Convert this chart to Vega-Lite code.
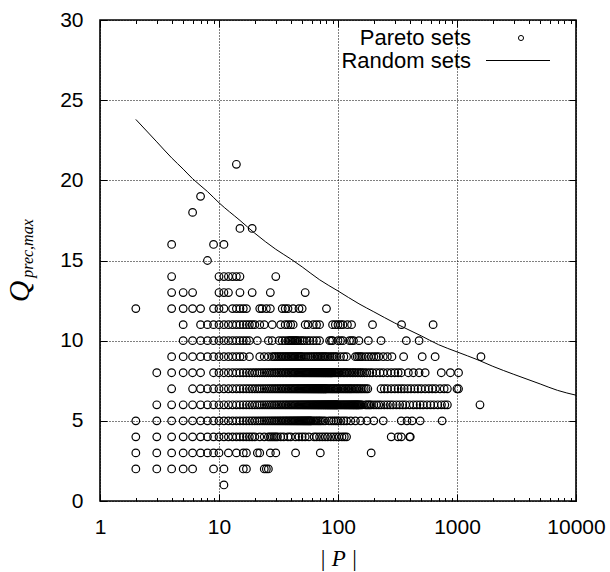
{
"$schema":"https://vega.github.io/schema/vega-lite/v6.json",
"width":476,"height":481,
"autosize":{"type":"none"},
"padding":{"left":100,"top":20,"right":34,"bottom":71},
"background":"white",
"config":{
 "view":{"stroke":"black","strokeWidth":1.6},
 "axis":{"labelFont":"Liberation Sans","labelFontSize":21,"labelColor":"black","tickColor":"black","tickWidth":1,"domain":false,"gridColor":"black","gridDash":[1,2],"gridOpacity":1,"gridWidth":1,"labelOverlap":false,"labelFlush":false,"labelBound":false,"titleColor":"black"},
 "legend":{"labelFont":"Liberation Sans","labelFontSize":22,"labelColor":"black","labelLimit":0,"padding":0,"symbolStrokeWidth":1,"labelAlign":"right"}
},
"datasets":{
"random":[{"x":2,"q":23.8},{"x":3,"q":22.4},{"x":4,"q":21.4},{"x":5,"q":20.7},{"x":6,"q":20.1},{"x":8,"q":19.3},{"x":10,"q":18.6},{"x":15,"q":17.5},{"x":20,"q":16.7},{"x":30,"q":15.7},{"x":40,"q":15.1},{"x":50,"q":14.6},{"x":70,"q":13.8},{"x":100,"q":13.1},{"x":150,"q":12.3},{"x":200,"q":11.8},{"x":300,"q":11.1},{"x":500,"q":10.3},{"x":700,"q":9.75},{"x":1000,"q":9.3},{"x":1500,"q":8.8},{"x":2000,"q":8.4},{"x":3000,"q":7.9},{"x":5000,"q":7.3},{"x":7000,"q":6.9},{"x":10000,"q":6.6}],
"pareto":[
{"x":11,"y":1},
{"x":2,"y":2},{"x":3,"y":2},{"x":4,"y":2},{"x":5,"y":2},{"x":6,"y":2},{"x":9,"y":2},{"x":11,"y":2},{"x":16,"y":2},{"x":17,"y":2},{"x":24,"y":2},{"x":25,"y":2},{"x":26,"y":2},
{"x":2,"y":3},{"x":3,"y":3},{"x":4,"y":3},{"x":5,"y":3},{"x":6,"y":3},{"x":7,"y":3},{"x":8,"y":3},{"x":9,"y":3},{"x":10,"y":3},{"x":12,"y":3},{"x":14,"y":3},{"x":16,"y":3},{"x":17,"y":3},{"x":21,"y":3},{"x":22,"y":3},{"x":27,"y":3},{"x":30,"y":3},{"x":44,"y":3},{"x":71,"y":3},{"x":190,"y":3},
{"x":2,"y":4},{"x":3,"y":4},{"x":4,"y":4},{"x":5,"y":4},{"x":6,"y":4},{"x":7,"y":4},{"x":8,"y":4},{"x":9,"y":4},{"x":10,"y":4},{"x":11,"y":4},{"x":12,"y":4},{"x":13,"y":4},{"x":14,"y":4},{"x":15,"y":4},{"x":16,"y":4},{"x":17,"y":4},{"x":18,"y":4},{"x":19,"y":4},{"x":20,"y":4},{"x":22,"y":4},{"x":24,"y":4},{"x":26,"y":4},{"x":27,"y":4},{"x":28,"y":4},{"x":29,"y":4},{"x":30,"y":4},{"x":31,"y":4},{"x":33,"y":4},{"x":35,"y":4},{"x":38,"y":4},{"x":40,"y":4},{"x":44,"y":4},{"x":47,"y":4},{"x":50,"y":4},{"x":53,"y":4},{"x":57,"y":4},{"x":63,"y":4},{"x":66,"y":4},{"x":70,"y":4},{"x":74,"y":4},{"x":78,"y":4},{"x":82,"y":4},{"x":87,"y":4},{"x":92,"y":4},{"x":97,"y":4},{"x":102,"y":4},{"x":108,"y":4},{"x":113,"y":4},{"x":118,"y":4},{"x":280,"y":4},{"x":320,"y":4},{"x":340,"y":4},{"x":400,"y":4},{"x":405,"y":4},
{"x":2,"y":5},{"x":3,"y":5},{"x":4,"y":5},{"x":5,"y":5},{"x":6,"y":5},{"x":7,"y":5},{"x":8,"y":5},{"x":9,"y":5},{"x":10,"y":5},{"x":11,"y":5},{"x":12,"y":5},{"x":13,"y":5},{"x":14,"y":5},{"x":15,"y":5},{"x":16,"y":5},{"x":17,"y":5},{"x":18,"y":5},{"x":19,"y":5},{"x":20,"y":5},{"x":21,"y":5},{"x":22,"y":5},{"x":23,"y":5},{"x":24,"y":5},{"x":25,"y":5},{"x":26,"y":5},{"x":27,"y":5},{"x":28,"y":5},{"x":29,"y":5},{"x":30,"y":5},{"x":31,"y":5},{"x":32,"y":5},{"x":33,"y":5},{"x":34,"y":5},{"x":35,"y":5},{"x":36,"y":5},{"x":37,"y":5},{"x":38,"y":5},{"x":39,"y":5},{"x":40,"y":5},{"x":41,"y":5},{"x":42,"y":5},{"x":43,"y":5},{"x":44,"y":5},{"x":45,"y":5},{"x":46,"y":5},{"x":47,"y":5},{"x":48,"y":5},{"x":49,"y":5},{"x":50,"y":5},{"x":51,"y":5},{"x":52,"y":5},{"x":53,"y":5},{"x":54,"y":5},{"x":55,"y":5},{"x":56,"y":5},{"x":57,"y":5},{"x":58,"y":5},{"x":59,"y":5},{"x":60,"y":5},{"x":62,"y":5},{"x":64,"y":5},{"x":66,"y":5},{"x":68,"y":5},{"x":70,"y":5},{"x":72,"y":5},{"x":75,"y":5},{"x":78,"y":5},{"x":84,"y":5},{"x":88,"y":5},{"x":92,"y":5},{"x":96,"y":5},{"x":100,"y":5},{"x":106,"y":5},{"x":112,"y":5},{"x":118,"y":5},{"x":128,"y":5},{"x":140,"y":5},{"x":155,"y":5},{"x":175,"y":5},{"x":200,"y":5},{"x":240,"y":5},{"x":340,"y":5},{"x":380,"y":5},{"x":420,"y":5},{"x":490,"y":5},{"x":750,"y":5},
{"x":3,"y":6},{"x":4,"y":6},{"x":5,"y":6},{"x":6,"y":6},{"x":7,"y":6},{"x":8,"y":6},{"x":9,"y":6},{"x":10,"y":6},{"x":11,"y":6},{"x":12,"y":6},{"x":13,"y":6},{"x":14,"y":6},{"x":15,"y":6},{"x":16,"y":6},{"x":17,"y":6},{"x":18,"y":6},{"x":19,"y":6},{"x":20,"y":6},{"x":21,"y":6},{"x":22,"y":6},{"x":23,"y":6},{"x":24,"y":6},{"x":25,"y":6},{"x":26,"y":6},{"x":27,"y":6},{"x":28,"y":6},{"x":29,"y":6},{"x":30,"y":6},{"x":31,"y":6},{"x":32,"y":6},{"x":33,"y":6},{"x":34,"y":6},{"x":35,"y":6},{"x":36,"y":6},{"x":37,"y":6},{"x":38,"y":6},{"x":39,"y":6},{"x":40,"y":6},{"x":41,"y":6},{"x":42,"y":6},{"x":43,"y":6},{"x":44,"y":6},{"x":45,"y":6},{"x":46,"y":6},{"x":47,"y":6},{"x":48,"y":6},{"x":49,"y":6},{"x":50,"y":6},{"x":51,"y":6},{"x":52,"y":6},{"x":53,"y":6},{"x":54,"y":6},{"x":55,"y":6},{"x":56,"y":6},{"x":57,"y":6},{"x":58,"y":6},{"x":59,"y":6},{"x":60,"y":6},{"x":61,"y":6},{"x":62,"y":6},{"x":63,"y":6},{"x":64,"y":6},{"x":65,"y":6},{"x":66,"y":6},{"x":67,"y":6},{"x":68,"y":6},{"x":69,"y":6},{"x":70,"y":6},{"x":71,"y":6},{"x":72,"y":6},{"x":73,"y":6},{"x":74,"y":6},{"x":75,"y":6},{"x":76,"y":6},{"x":77,"y":6},{"x":78,"y":6},{"x":79,"y":6},{"x":80,"y":6},{"x":81,"y":6},{"x":82,"y":6},{"x":83,"y":6},{"x":84,"y":6},{"x":85,"y":6},{"x":86,"y":6},{"x":87,"y":6},{"x":88,"y":6},{"x":89,"y":6},{"x":90,"y":6},{"x":91,"y":6},{"x":92,"y":6},{"x":93,"y":6},{"x":94,"y":6},{"x":95,"y":6},{"x":96,"y":6},{"x":97,"y":6},{"x":98,"y":6},{"x":99,"y":6},{"x":100,"y":6},{"x":102,"y":6},{"x":104,"y":6},{"x":106,"y":6},{"x":108,"y":6},{"x":110,"y":6},{"x":112,"y":6},{"x":114,"y":6},{"x":116,"y":6},{"x":118,"y":6},{"x":120,"y":6},{"x":122,"y":6},{"x":124,"y":6},{"x":126,"y":6},{"x":128,"y":6},{"x":130,"y":6},{"x":132,"y":6},{"x":134,"y":6},{"x":136,"y":6},{"x":138,"y":6},{"x":140,"y":6},{"x":142,"y":6},{"x":144,"y":6},{"x":146,"y":6},{"x":148,"y":6},{"x":150,"y":6},{"x":153,"y":6},{"x":156,"y":6},{"x":160,"y":6},{"x":170,"y":6},{"x":175,"y":6},{"x":180,"y":6},{"x":185,"y":6},{"x":190,"y":6},{"x":200,"y":6},{"x":210,"y":6},{"x":220,"y":6},{"x":230,"y":6},{"x":245,"y":6},{"x":260,"y":6},{"x":275,"y":6},{"x":290,"y":6},{"x":310,"y":6},{"x":330,"y":6},{"x":350,"y":6},{"x":370,"y":6},{"x":400,"y":6},{"x":430,"y":6},{"x":460,"y":6},{"x":490,"y":6},{"x":520,"y":6},{"x":560,"y":6},{"x":600,"y":6},{"x":640,"y":6},{"x":690,"y":6},{"x":740,"y":6},{"x":790,"y":6},{"x":830,"y":6},{"x":1560,"y":6},
{"x":4,"y":7},{"x":6,"y":7},{"x":7,"y":7},{"x":8,"y":7},{"x":9,"y":7},{"x":10,"y":7},{"x":11,"y":7},{"x":12,"y":7},{"x":13,"y":7},{"x":14,"y":7},{"x":15,"y":7},{"x":16,"y":7},{"x":17,"y":7},{"x":18,"y":7},{"x":19,"y":7},{"x":20,"y":7},{"x":21,"y":7},{"x":22,"y":7},{"x":23,"y":7},{"x":24,"y":7},{"x":25,"y":7},{"x":26,"y":7},{"x":27,"y":7},{"x":28,"y":7},{"x":29,"y":7},{"x":30,"y":7},{"x":31,"y":7},{"x":32,"y":7},{"x":33,"y":7},{"x":34,"y":7},{"x":35,"y":7},{"x":36,"y":7},{"x":37,"y":7},{"x":38,"y":7},{"x":39,"y":7},{"x":40,"y":7},{"x":41,"y":7},{"x":42,"y":7},{"x":43,"y":7},{"x":44,"y":7},{"x":45,"y":7},{"x":46,"y":7},{"x":47,"y":7},{"x":48,"y":7},{"x":49,"y":7},{"x":50,"y":7},{"x":51,"y":7},{"x":52,"y":7},{"x":53,"y":7},{"x":54,"y":7},{"x":55,"y":7},{"x":56,"y":7},{"x":57,"y":7},{"x":58,"y":7},{"x":59,"y":7},{"x":60,"y":7},{"x":61,"y":7},{"x":62,"y":7},{"x":63,"y":7},{"x":64,"y":7},{"x":65,"y":7},{"x":66,"y":7},{"x":67,"y":7},{"x":68,"y":7},{"x":69,"y":7},{"x":70,"y":7},{"x":71,"y":7},{"x":72,"y":7},{"x":73,"y":7},{"x":74,"y":7},{"x":75,"y":7},{"x":76,"y":7},{"x":77,"y":7},{"x":78,"y":7},{"x":79,"y":7},{"x":80,"y":7},{"x":82,"y":7},{"x":84,"y":7},{"x":86,"y":7},{"x":88,"y":7},{"x":90,"y":7},{"x":92,"y":7},{"x":94,"y":7},{"x":96,"y":7},{"x":98,"y":7},{"x":100,"y":7},{"x":103,"y":7},{"x":106,"y":7},{"x":109,"y":7},{"x":112,"y":7},{"x":115,"y":7},{"x":118,"y":7},{"x":121,"y":7},{"x":124,"y":7},{"x":127,"y":7},{"x":130,"y":7},{"x":134,"y":7},{"x":138,"y":7},{"x":142,"y":7},{"x":146,"y":7},{"x":150,"y":7},{"x":155,"y":7},{"x":160,"y":7},{"x":166,"y":7},{"x":172,"y":7},{"x":178,"y":7},{"x":230,"y":7},{"x":245,"y":7},{"x":260,"y":7},{"x":280,"y":7},{"x":300,"y":7},{"x":320,"y":7},{"x":340,"y":7},{"x":360,"y":7},{"x":385,"y":7},{"x":410,"y":7},{"x":440,"y":7},{"x":470,"y":7},{"x":500,"y":7},{"x":540,"y":7},{"x":580,"y":7},{"x":620,"y":7},{"x":660,"y":7},{"x":720,"y":7},{"x":780,"y":7},{"x":830,"y":7},{"x":1000,"y":7},{"x":1030,"y":7},
{"x":3,"y":8},{"x":4,"y":8},{"x":5,"y":8},{"x":6,"y":8},{"x":7,"y":8},{"x":9,"y":8},{"x":10,"y":8},{"x":11,"y":8},{"x":12,"y":8},{"x":13,"y":8},{"x":14,"y":8},{"x":15,"y":8},{"x":16,"y":8},{"x":17,"y":8},{"x":18,"y":8},{"x":19,"y":8},{"x":20,"y":8},{"x":21,"y":8},{"x":22,"y":8},{"x":23,"y":8},{"x":24,"y":8},{"x":25,"y":8},{"x":26,"y":8},{"x":27,"y":8},{"x":28,"y":8},{"x":29,"y":8},{"x":30,"y":8},{"x":31,"y":8},{"x":32,"y":8},{"x":33,"y":8},{"x":34,"y":8},{"x":35,"y":8},{"x":36,"y":8},{"x":37,"y":8},{"x":38,"y":8},{"x":39,"y":8},{"x":40,"y":8},{"x":41,"y":8},{"x":42,"y":8},{"x":43,"y":8},{"x":44,"y":8},{"x":45,"y":8},{"x":46,"y":8},{"x":47,"y":8},{"x":48,"y":8},{"x":49,"y":8},{"x":50,"y":8},{"x":51,"y":8},{"x":52,"y":8},{"x":53,"y":8},{"x":54,"y":8},{"x":55,"y":8},{"x":56,"y":8},{"x":57,"y":8},{"x":58,"y":8},{"x":59,"y":8},{"x":60,"y":8},{"x":61,"y":8},{"x":62,"y":8},{"x":63,"y":8},{"x":64,"y":8},{"x":65,"y":8},{"x":66,"y":8},{"x":67,"y":8},{"x":68,"y":8},{"x":69,"y":8},{"x":70,"y":8},{"x":71,"y":8},{"x":72,"y":8},{"x":73,"y":8},{"x":74,"y":8},{"x":75,"y":8},{"x":76,"y":8},{"x":77,"y":8},{"x":78,"y":8},{"x":79,"y":8},{"x":80,"y":8},{"x":81,"y":8},{"x":82,"y":8},{"x":83,"y":8},{"x":84,"y":8},{"x":85,"y":8},{"x":86,"y":8},{"x":87,"y":8},{"x":88,"y":8},{"x":89,"y":8},{"x":90,"y":8},{"x":92,"y":8},{"x":94,"y":8},{"x":96,"y":8},{"x":98,"y":8},{"x":100,"y":8},{"x":102,"y":8},{"x":105,"y":8},{"x":108,"y":8},{"x":111,"y":8},{"x":114,"y":8},{"x":117,"y":8},{"x":120,"y":8},{"x":124,"y":8},{"x":128,"y":8},{"x":132,"y":8},{"x":136,"y":8},{"x":140,"y":8},{"x":145,"y":8},{"x":150,"y":8},{"x":155,"y":8},{"x":160,"y":8},{"x":167,"y":8},{"x":175,"y":8},{"x":185,"y":8},{"x":195,"y":8},{"x":210,"y":8},{"x":225,"y":8},{"x":240,"y":8},{"x":260,"y":8},{"x":280,"y":8},{"x":300,"y":8},{"x":320,"y":8},{"x":340,"y":8},{"x":390,"y":8},{"x":430,"y":8},{"x":480,"y":8},{"x":540,"y":8},{"x":738,"y":8},{"x":880,"y":8},{"x":1030,"y":8},
{"x":4,"y":9},{"x":5,"y":9},{"x":6,"y":9},{"x":7,"y":9},{"x":8,"y":9},{"x":9,"y":9},{"x":10,"y":9},{"x":11,"y":9},{"x":12,"y":9},{"x":13,"y":9},{"x":14,"y":9},{"x":15,"y":9},{"x":16,"y":9},{"x":18,"y":9},{"x":22,"y":9},{"x":24,"y":9},{"x":26,"y":9},{"x":28,"y":9},{"x":29,"y":9},{"x":30,"y":9},{"x":31,"y":9},{"x":32,"y":9},{"x":33,"y":9},{"x":34,"y":9},{"x":35,"y":9},{"x":36,"y":9},{"x":37,"y":9},{"x":38,"y":9},{"x":39,"y":9},{"x":40,"y":9},{"x":41,"y":9},{"x":42,"y":9},{"x":43,"y":9},{"x":44,"y":9},{"x":45,"y":9},{"x":46,"y":9},{"x":47,"y":9},{"x":48,"y":9},{"x":49,"y":9},{"x":50,"y":9},{"x":52,"y":9},{"x":54,"y":9},{"x":56,"y":9},{"x":58,"y":9},{"x":60,"y":9},{"x":62,"y":9},{"x":64,"y":9},{"x":66,"y":9},{"x":68,"y":9},{"x":70,"y":9},{"x":72,"y":9},{"x":74,"y":9},{"x":76,"y":9},{"x":78,"y":9},{"x":80,"y":9},{"x":83,"y":9},{"x":86,"y":9},{"x":89,"y":9},{"x":92,"y":9},{"x":95,"y":9},{"x":98,"y":9},{"x":105,"y":9},{"x":112,"y":9},{"x":118,"y":9},{"x":140,"y":9},{"x":145,"y":9},{"x":150,"y":9},{"x":155,"y":9},{"x":160,"y":9},{"x":170,"y":9},{"x":180,"y":9},{"x":190,"y":9},{"x":200,"y":9},{"x":210,"y":9},{"x":220,"y":9},{"x":240,"y":9},{"x":260,"y":9},{"x":284,"y":9},{"x":356,"y":9},{"x":510,"y":9},{"x":655,"y":9},{"x":1590,"y":9},
{"x":5,"y":10},{"x":6,"y":10},{"x":7,"y":10},{"x":8,"y":10},{"x":9,"y":10},{"x":10,"y":10},{"x":11,"y":10},{"x":12,"y":10},{"x":13,"y":10},{"x":14,"y":10},{"x":15,"y":10},{"x":16,"y":10},{"x":17,"y":10},{"x":18,"y":10},{"x":21,"y":10},{"x":26,"y":10},{"x":28,"y":10},{"x":32,"y":10},{"x":34,"y":10},{"x":36,"y":10},{"x":38,"y":10},{"x":39,"y":10},{"x":40,"y":10},{"x":41,"y":10},{"x":42,"y":10},{"x":43,"y":10},{"x":44,"y":10},{"x":45,"y":10},{"x":46,"y":10},{"x":48,"y":10},{"x":50,"y":10},{"x":52,"y":10},{"x":55,"y":10},{"x":58,"y":10},{"x":62,"y":10},{"x":66,"y":10},{"x":70,"y":10},{"x":85,"y":10},{"x":88,"y":10},{"x":90,"y":10},{"x":100,"y":10},{"x":105,"y":10},{"x":110,"y":10},{"x":125,"y":10},{"x":130,"y":10},{"x":135,"y":10},{"x":150,"y":10},{"x":180,"y":10},{"x":230,"y":10},{"x":375,"y":10},{"x":480,"y":10},
{"x":5,"y":11},{"x":7,"y":11},{"x":8,"y":11},{"x":9,"y":11},{"x":10,"y":11},{"x":11,"y":11},{"x":12,"y":11},{"x":13,"y":11},{"x":14,"y":11},{"x":15,"y":11},{"x":16,"y":11},{"x":17,"y":11},{"x":18,"y":11},{"x":19,"y":11},{"x":20,"y":11},{"x":22,"y":11},{"x":24,"y":11},{"x":28,"y":11},{"x":33,"y":11},{"x":36,"y":11},{"x":38,"y":11},{"x":40,"y":11},{"x":42,"y":11},{"x":53,"y":11},{"x":56,"y":11},{"x":62,"y":11},{"x":66,"y":11},{"x":70,"y":11},{"x":90,"y":11},{"x":95,"y":11},{"x":100,"y":11},{"x":105,"y":11},{"x":110,"y":11},{"x":120,"y":11},{"x":130,"y":11},{"x":195,"y":11},{"x":342,"y":11},{"x":630,"y":11},
{"x":2,"y":12},{"x":4,"y":12},{"x":5,"y":12},{"x":6,"y":12},{"x":7,"y":12},{"x":9,"y":12},{"x":10,"y":12},{"x":11,"y":12},{"x":13,"y":12},{"x":14,"y":12},{"x":15,"y":12},{"x":16,"y":12},{"x":17,"y":12},{"x":22,"y":12},{"x":23,"y":12},{"x":25,"y":12},{"x":27,"y":12},{"x":34,"y":12},{"x":36,"y":12},{"x":38,"y":12},{"x":42,"y":12},{"x":47,"y":12},{"x":50,"y":12},{"x":80,"y":12},
{"x":4,"y":13},{"x":5,"y":13},{"x":6,"y":13},{"x":10,"y":13},{"x":11,"y":13},{"x":12,"y":13},{"x":15,"y":13},{"x":19,"y":13},{"x":27,"y":13},{"x":53,"y":13},
{"x":4,"y":14},{"x":10,"y":14},{"x":11,"y":14},{"x":12,"y":14},{"x":13,"y":14},{"x":14,"y":14},{"x":15,"y":14},{"x":30,"y":14},
{"x":8,"y":15},
{"x":4,"y":16},{"x":9,"y":16},{"x":11,"y":16},
{"x":15,"y":17},{"x":19,"y":17},
{"x":6,"y":18},
{"x":7,"y":19},
{"x":14,"y":21}
]
},
"layer":[
 {"data":{"name":"pareto"},
  "mark":{"type":"point","shape":"circle","size":58,"strokeWidth":1.2,"filled":false,"opacity":1},
  "encoding":{
   "x":{"field":"x","type":"quantitative","scale":{"type":"log","domain":[1,10000],"nice":false},
        "axis":{"orient":"bottom","values":[1,10,100,1000,10000],"format":"d","grid":true,"tickSize":-7,"labelPadding":22,
                "title":"| P |","titleFont":"Liberation Serif","titleFontStyle":"italic","titleFontWeight":"normal","titleFontSize":23,"titleX":238,"titleY":64,"titleBaseline":"alphabetic","titleAlign":"center"}},
   "y":{"field":"y","type":"quantitative","scale":{"domain":[0,30],"nice":false,"zero":false},
        "axis":{"orient":"left","values":[0,5,10,15,20,25,30],"grid":true,"tickSize":-7,"labelPadding":24,
                "title":"Q","titleFont":"Liberation Serif","titleFontStyle":"italic","titleFontWeight":"normal","titleFontSize":30,"titleAngle":270,"titleX":-72,"titleY":271,"titleBaseline":"alphabetic","titleAlign":"center"}},
   "color":{"datum":"Pareto sets","type":"nominal",
     "scale":{"domain":["Pareto sets"],"range":["black"]},
     "legend":{"orient":"none","legendX":410,"legendY":7,"title":null,"symbolType":"circle","symbolSize":26,"labelOffset":-61}}
  }},
 {"data":{"name":"random"},
  "mark":{"type":"line","strokeWidth":1,"interpolate":"monotone"},
  "encoding":{
   "x":{"field":"x","type":"quantitative","axis":{"orient":"top","values":[1,10,100,1000,10000],"grid":false,"labels":false,"tickSize":-7,"title":null}},
   "y":{"field":"q","type":"quantitative","axis":{"orient":"right","values":[0,5,10,15,20,25,30],"grid":false,"labels":false,"tickSize":-7,"title":null}},
   "color":{"datum":"Random sets","type":"nominal",
     "scale":{"domain":["Random sets"],"range":["black"]},
     "legend":{"orient":"none","legendX":385.5,"legendY":8,"title":null,"symbolType":"stroke","symbolSize":4096,"labelOffset":-79.5}}
  }},
 {"data":{"name":"random"},
  "mark":{"type":"line","opacity":0},
  "encoding":{
   "x":{"field":"x","type":"quantitative","axis":{"orient":"bottom","values":[2,3,4,5,6,7,8,9,20,30,40,50,60,70,80,90,200,300,400,500,600,700,800,900,2000,3000,4000,5000,6000,7000,8000,9000],"grid":false,"labels":false,"tickSize":-3.5,"title":null}},
   "y":{"field":"q","type":"quantitative","axis":{"orient":"left","grid":false,"labels":false,"ticks":false,"title":"prec,max","titleFont":"Liberation Serif","titleFontStyle":"italic","titleFontWeight":"normal","titleFontSize":16,"titleAngle":270,"titleX":-68,"titleY":228,"titleBaseline":"alphabetic","titleAlign":"center"}}
  }},
 {"data":{"name":"random"},
  "mark":{"type":"line","opacity":0},
  "encoding":{
   "x":{"field":"x","type":"quantitative","axis":{"orient":"top","values":[2,3,4,5,6,7,8,9,20,30,40,50,60,70,80,90,200,300,400,500,600,700,800,900,2000,3000,4000,5000,6000,7000,8000,9000],"grid":false,"labels":false,"tickSize":-3.5,"title":null}},
   "y":{"field":"q","type":"quantitative","axis":null}
  }}
],
"resolve":{"axis":{"x":"independent","y":"independent"},"scale":{"color":"independent"},"legend":{"color":"independent"}}
}
